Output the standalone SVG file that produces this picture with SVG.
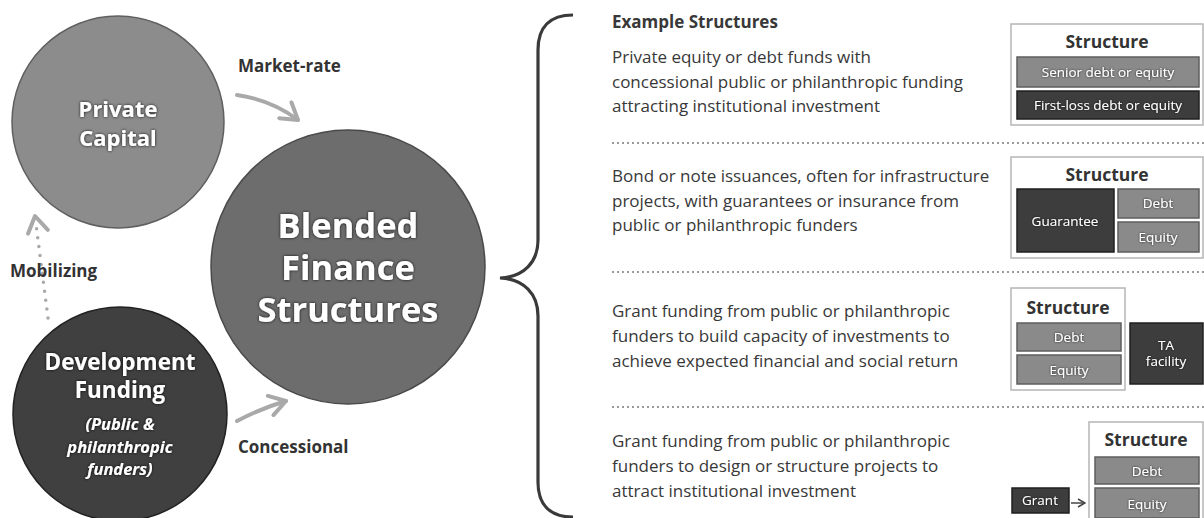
<svg xmlns="http://www.w3.org/2000/svg" width="1204" height="518" viewBox="0 0 1204 518">
<defs>
<style>
.circ-t{font-family:"Open Sans","Liberation Sans",sans-serif;font-weight:bold;fill:#fff;text-anchor:middle;filter:url(#glow)}
.lbl{font-family:"Open Sans","Liberation Sans",sans-serif;font-weight:bold;font-size:17px;fill:#333}
.body{font-family:"Open Sans","Liberation Sans",sans-serif;font-size:17px;fill:#383838}
.hdr{font-family:"Open Sans","Liberation Sans",sans-serif;font-weight:bold;font-size:17.5px;fill:#333;text-anchor:middle}
.bar-t{font-family:"Open Sans","Liberation Sans",sans-serif;font-size:13.5px;fill:#fff;text-anchor:middle;filter:url(#glow2)}
.outer{fill:#fff;stroke:#b5b5b5;stroke-width:1.5}
.mid{fill:#8a8a8a;stroke:#5e5e5e;stroke-width:1.5}
.dark{fill:#3d3d3d;stroke:#1f1f1f;stroke-width:1.5}
.arrow{fill:none;stroke:#a9a9a9;stroke-width:4;stroke-linecap:round}
.sep{stroke:#9a9a9a;stroke-width:2;stroke-dasharray:2 3}
</style>
<filter id="glow" x="-20%" y="-20%" width="140%" height="140%">
<feDropShadow dx="0" dy="0" stdDeviation="1.6" flood-color="#000" flood-opacity="0.9"/>
</filter>
<filter id="glow2" x="-20%" y="-20%" width="140%" height="140%">
<feDropShadow dx="0" dy="0" stdDeviation="0.8" flood-color="#000" flood-opacity="0.8"/>
</filter>
<marker id="chevBig" viewBox="0 0 24 24" refX="20" refY="12" markerWidth="24" markerHeight="24" markerUnits="userSpaceOnUse" orient="auto">
<path d="M4,2 L20,12 L4,22" fill="none" stroke="#a9a9a9" stroke-width="4" stroke-linecap="round" stroke-linejoin="round"/>
</marker>
<marker id="chevDark" viewBox="0 0 10 10" refX="9" refY="5" markerWidth="10" markerHeight="10" markerUnits="userSpaceOnUse" orient="auto">
<path d="M2,1 L9,5 L2,9" fill="none" stroke="#444" stroke-width="1.5"/>
</marker>
</defs>
<rect width="1204" height="518" fill="#fff"/>

<g id="connectors">
<path class="arrow" d="M237,95 Q272,100 298,120" marker-end="url(#chevBig)"/>
<path class="arrow" d="M237,421 Q262,408 286,401" marker-end="url(#chevBig)"/>
<path d="M48,318 L36,224" fill="none" stroke="#a9a9a9" stroke-width="3.5" stroke-linecap="round" stroke-dasharray="0 9"/>
<path d="M38,232 L35,216" fill="none" stroke="none" marker-end="url(#chevBig)"/>
<path d="M1071,503 L1085,503" fill="none" stroke="#444" stroke-width="1.5" marker-end="url(#chevDark)"/>
<path d="M573,15 C550,15 538,27 538,50 L538,240 C538,262 524,277 500,278 C524,279 538,294 538,316 L538,482 C538,505 550,517 573,517" fill="none" stroke="#3a3a3a" stroke-width="3.2"/>
</g>

<g id="labels">
<text class="lbl" x="238" y="72">Market-rate</text>
<text class="lbl" x="10" y="277">Mobilizing</text>
<text class="lbl" x="238" y="453">Concessional</text>
</g>

<g id="private-capital">
<circle cx="118" cy="122" r="106" fill="#8c8c8c" stroke="#5f5f5f" stroke-width="1.5"/>
<text class="circ-t" x="118" y="117" font-size="22">Private</text>
<text class="circ-t" x="118" y="146" font-size="22">Capital</text>
</g>

<g id="development-funding">
<circle cx="120" cy="414" r="107" fill="#404040" stroke="#222" stroke-width="1.5"/>
<text class="circ-t" x="120" y="370" font-size="22.5">Development</text>
<text class="circ-t" x="120" y="398" font-size="22.5">Funding</text>
<text class="circ-t" x="120" y="430" font-size="16.5" font-style="italic">(Public &amp;</text>
<text class="circ-t" x="120" y="453" font-size="16.5" font-style="italic">philanthropic</text>
<text class="circ-t" x="120" y="475" font-size="16.5" font-style="italic">funders)</text>
</g>

<g id="blended-finance">
<circle cx="348" cy="267" r="137" fill="#6d6d6d" stroke="#4a4a4a" stroke-width="1.5"/>
<text class="circ-t" x="348" y="238" font-size="34.5">Blended</text>
<text class="circ-t" x="348" y="280" font-size="34.5">Finance</text>
<text class="circ-t" x="348" y="322" font-size="34.5">Structures</text>
</g>

<g id="examples-text">
<text class="body" x="612" y="28" font-weight="bold" fill="#333">Example Structures</text>
<text class="body" x="612" y="63">Private equity or debt funds with</text>
<text class="body" x="612" y="88">concessional public or philanthropic funding</text>
<text class="body" x="612" y="112">attracting institutional investment</text>
<line class="sep" x1="612" y1="143" x2="1204" y2="143"/>
<text class="body" x="612" y="182">Bond or note issuances, often for infrastructure</text>
<text class="body" x="612" y="207">projects, with guarantees or insurance from</text>
<text class="body" x="612" y="231">public or philanthropic funders</text>
<line class="sep" x1="612" y1="272" x2="1204" y2="272"/>
<text class="body" x="612" y="317">Grant funding from public or philanthropic</text>
<text class="body" x="612" y="342">funders to build capacity of investments to</text>
<text class="body" x="612" y="367">achieve expected financial and social return</text>
<line class="sep" x1="612" y1="407" x2="1204" y2="407"/>
<text class="body" x="612" y="447">Grant funding from public or philanthropic</text>
<text class="body" x="612" y="472">funders to design or structure projects to</text>
<text class="body" x="612" y="497">attract institutional investment</text>
</g>

<g id="structure-1">
<rect class="outer" x="1011" y="24" width="192" height="101"/>
<text class="hdr" x="1107" y="48">Structure</text>
<rect class="mid" x="1017" y="57" width="182" height="30"/>
<text class="bar-t" x="1108" y="77">Senior debt or equity</text>
<rect class="dark" x="1017" y="91" width="182" height="28"/>
<text class="bar-t" x="1108" y="110">First-loss debt or equity</text>
</g>

<g id="structure-2">
<rect class="outer" x="1011" y="157" width="192" height="101"/>
<text class="hdr" x="1107" y="181">Structure</text>
<rect class="mid" x="1017" y="189" width="97" height="63" style="fill:#3d3d3d;stroke:#1f1f1f"/>
<text class="bar-t" x="1065" y="226">Guarantee</text>
<rect class="mid" x="1118" y="189" width="81" height="29"/>
<text class="bar-t" x="1158" y="208">Debt</text>
<rect class="mid" x="1118" y="222" width="81" height="30"/>
<text class="bar-t" x="1158" y="242">Equity</text>
</g>

<g id="structure-3">
<rect class="outer" x="1011" y="288" width="114" height="102"/>
<text class="hdr" x="1068" y="314">Structure</text>
<rect class="mid" x="1017" y="323" width="104" height="28"/>
<text class="bar-t" x="1069" y="342">Debt</text>
<rect class="mid" x="1017" y="355" width="104" height="29"/>
<text class="bar-t" x="1069" y="375">Equity</text>
<rect class="dark" x="1130" y="323" width="73" height="61"/>
<text class="bar-t" x="1166" y="350">TA</text>
<text class="bar-t" x="1166" y="366">facility</text>
</g>

<g id="structure-4">
<rect class="outer" x="1089" y="422" width="114" height="100"/>
<text class="hdr" x="1146" y="446">Structure</text>
<rect class="mid" x="1095" y="457" width="104" height="27"/>
<text class="bar-t" x="1147" y="476">Debt</text>
<rect class="mid" x="1095" y="488" width="104" height="30"/>
<text class="bar-t" x="1147" y="509">Equity</text>
<rect class="dark" x="1012" y="488" width="57" height="25"/>
<text class="bar-t" x="1040" y="505">Grant</text>
</g>
</svg>
